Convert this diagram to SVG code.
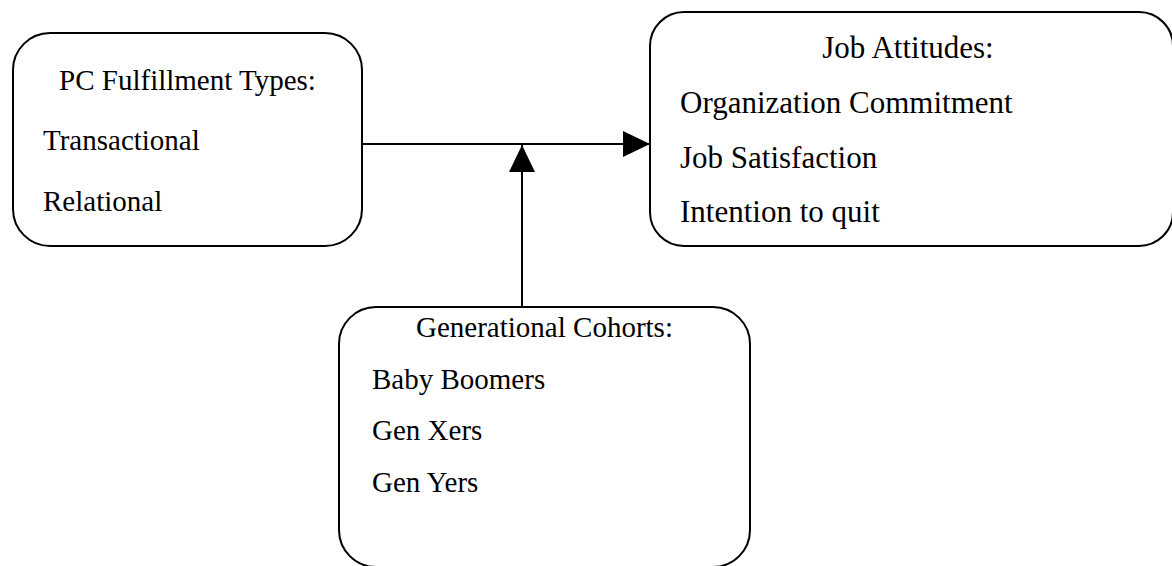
<svg xmlns="http://www.w3.org/2000/svg" width="1172" height="566" viewBox="0 0 1172 566">
<style>
.box{fill:#fff;stroke:#000;stroke-width:2}
.t{font-family:"Liberation Serif","Times New Roman",serif;fill:#000}
.s29{font-size:29px}
.s31{font-size:31px}
.c{text-anchor:middle}
.ln{stroke:#000;stroke-width:2;fill:none}
</style>
<defs>
<marker id="ah" viewBox="0 0 27 26" refX="27" refY="13" markerWidth="27" markerHeight="26" markerUnits="userSpaceOnUse" orient="auto">
<path d="M0,0 L27,13 L0,26 Z" fill="#000"/>
</marker>
</defs>
<g id="pc-fulfillment">
<rect class="box" x="13" y="33" width="349" height="213" rx="37" ry="37"/>
<text class="t s29 c" x="187.5" y="90">PC Fulfillment Types:</text>
<text class="t s29" x="43" y="150">Transactional</text>
<text class="t s29" x="43" y="211">Relational</text>
</g>
<g id="job-attitudes">
<rect class="box" x="650" y="12" width="523" height="234" rx="34" ry="34"/>
<text class="t s31 c" x="908" y="58">Job Attitudes:</text>
<text class="t s31" x="680" y="113">Organization Commitment</text>
<text class="t s31" x="680" y="168">Job Satisfaction</text>
<text class="t s31" x="680" y="222">Intention to quit</text>
</g>
<g id="generational-cohorts">
<rect class="box" x="339" y="307" width="411" height="260" rx="37" ry="37"/>
<text class="t s29 c" x="544.5" y="337">Generational Cohorts:</text>
<text class="t s29" x="372" y="389">Baby Boomers</text>
<text class="t s29" x="372" y="440">Gen Xers</text>
<text class="t s29" x="372" y="492">Gen Yers</text>
</g>
<g id="connectors">
<line class="ln" x1="362" y1="144" x2="650" y2="144" marker-end="url(#ah)"/>
<line class="ln" x1="522" y1="307" x2="522" y2="145" marker-end="url(#ah)"/>
</g>
</svg>
